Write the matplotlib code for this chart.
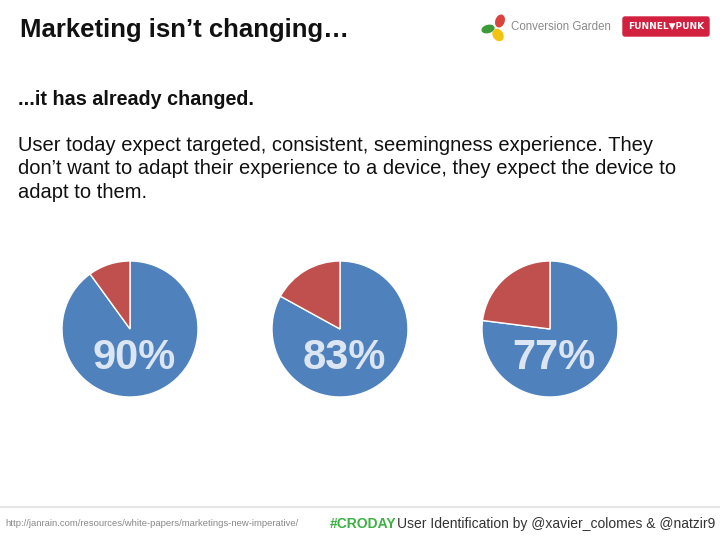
import matplotlib.pyplot as plt
from matplotlib.patches import Ellipse, FancyBboxPatch
from matplotlib.lines import Line2D

plt.rcParams['font.family'] = ['Liberation Sans', 'DejaVu Sans']

# Data
labels = ['90%', '83%', '77%']
yes_share = [90, 83, 77]
no_share = [10, 17, 23]

colors = ['#4f81bd', '#c0504d']

W, H = 720, 540
fig = plt.figure(figsize=(7.2, 5.4), dpi=100)
fig.patch.set_facecolor('white')


def fx(px):
    return px / W


def fy(py):
    return 1 - py / H


# Header
fig.text(fx(20), fy(30), 'Marketing isn\u2019t changing\u2026', fontsize=18.5, fontweight='bold',
         ha='left', va='center', color='#111111')
fig.text(fx(511), fy(27), 'Conversion Garden', fontsize=8.3, ha='left', va='center', color='#8a8a8a')

# Conversion Garden logo petals
logo = fig.add_axes([fx(478), fy(42), fx(32), 30 / H])
logo.set_xlim(0, 32)
logo.set_ylim(0, 30)
logo.axis('off')
logo.add_patch(Ellipse((22, 21), 8, 12, angle=-20, color='#d9443e'))
logo.add_patch(Ellipse((10, 13), 12, 7, angle=15, color='#3d9a3a'))
logo.add_patch(Ellipse((20, 7), 9, 12, angle=35, color='#f2c313'))

# Funnel Punk badge
badge = fig.add_axes([fx(622), fy(37), fx(88), 21 / H])
badge.set_xlim(0, 88)
badge.set_ylim(0, 21)
badge.axis('off')
badge.add_patch(FancyBboxPatch((1, 1), 86, 19, boxstyle='round,pad=0,rounding_size=2',
                               color='#d2213f'))
badge.text(44, 10.5, 'FUNNEL\u25bcPUNK', fontsize=6.5, fontweight='bold', color='white',
           ha='center', va='center', family=['DejaVu Sans'])

# Body text
fig.text(fx(18), fy(100), '...it has already changed.', fontsize=14.2, fontweight='bold',
         ha='left', va='center', color='#111111')
body = ['User today expect targeted, consistent, seemingness experience. They',
        'don\u2019t want to adapt their experience to a device, they expect the device to',
        'adapt to them.']
for i, line in enumerate(body):
    fig.text(fx(18), fy(145 + 24 * i), line, fontsize=14.5, ha='left', va='center', color='#111111')

# Pies
centers = [130, 340, 550]
r = 68
cy = 329
for cx, yes, no, lab in zip(centers, yes_share, no_share, labels):
    ax = fig.add_axes([fx(cx - r), fy(cy + r), fx(2 * r), 2 * r / H])
    ax.pie([yes, no], colors=colors, startangle=90, counterclock=False, radius=1,
           wedgeprops=dict(edgecolor='white', linewidth=1))
    ax.set_xlim(-1, 1)
    ax.set_ylim(-1, 1)
    ax.text(0.06, -0.42, lab, fontsize=30, fontweight='bold', color='#dce6f2',
            ha='center', va='center')

# Footer
fig.add_artist(Line2D([0, 1], [fy(507), fy(507)], color='#e6e6e6', linewidth=1.5))
fig.text(fx(5), fy(524), 'http://janrain.com/resources/white-papers/marketings-new-imperative/',
         fontsize=6.8, ha='left', va='center', color='#888888')
fig.text(fx(330), fy(524), '#CRODAY', fontsize=10, fontweight='bold', ha='left', va='center',
         color='#3cb043')
fig.text(fx(397), fy(524), 'User Identification by @xavier_colomes & @natzir9', fontsize=10,
         ha='left', va='center', color='#333333')

fig.savefig('out.png', dpi=100)
